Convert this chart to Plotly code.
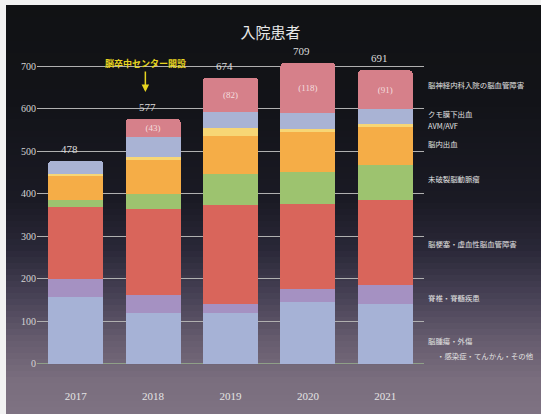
import plotly.graph_objects as go

years = ["2017", "2018", "2019", "2020", "2021"]
totals = [478, 577, 674, 709, 691]

# stacked segments, bottom to top
tumor_other = [158, 120, 119, 145, 142]      # 脳腫瘍・外傷・感染症・てんかん・その他
spine = [41, 42, 22, 31, 43]                 # 脊椎・脊髄疾患
infarction = [171, 202, 232, 201, 202]       # 脳梗塞・虚血性脳血管障害
aneurysm = [17, 36, 73, 74, 82]              # 未破裂脳動脈瘤
ich = [57, 80, 91, 94, 89]                   # 脳内出血
avm = [3, 6, 18, 8, 7]                       # AVM/AVF
sah = [31, 48, 37, 38, 35]                   # クモ膜下出血
neurology = [0, 43, 82, 118, 91]             # 脳神経内科入院の脳血管障害
neurology_labels = ["", "(43)", "(82)", "(118)", "(91)"]

series = [
    ("脳腫瘍・外傷・感染症・てんかん・その他", tumor_other, "#a6b2d6"),
    ("脊椎・脊髄疾患", spine, "#a591c2"),
    ("脳梗塞・虚血性脳血管障害", infarction, "#d9655b"),
    ("未破裂脳動脈瘤", aneurysm, "#9dc36f"),
    ("脳内出血", ich, "#f5ad47"),
    ("AVM/AVF", avm, "#f7d675"),
    ("クモ膜下出血", sah, "#a9b3d4"),
    ("脳神経内科入院の脳血管障害", neurology, "#d6808a"),
]

# right-side labels: (text, pixel y, pixel x)
side_labels = [
    ("脳神経内科入院の脳血管障害", 84, 426),
    ("クモ膜下出血", 114, 426),
    ("AVM/AVF", 125, 426),
    ("脳内出血", 143, 426),
    ("未破裂脳動脈瘤", 178, 426),
    ("脳梗塞・虚血性脳血管障害", 243, 426),
    ("脊椎・脊髄疾患", 297, 426),
    ("脳腫瘍・外傷", 340, 426),
    ("・感染症・てんかん・その他", 355, 435),
]

SERIF = "Liberation Serif, DejaVu Serif, Noto Sans CJK JP, serif"
JP = "Noto Sans CJK JP, sans-serif"

xs = list(range(len(years)))
fig = go.Figure()
for name, vals, color in series:
    is_top = name == "脳神経内科入院の脳血管障害"
    fig.add_trace(go.Bar(
        x=xs, y=vals, name=name, width=0.71,
        marker=dict(color=color, line=dict(width=0)),
        text=neurology_labels if is_top else None,
        textposition="inside" if is_top else None,
        insidetextanchor="middle",
        textfont=dict(family=SERIF, size=9, color="#f4dede"),
        showlegend=False,
    ))

# background gradient bands
stops = [(5, (17, 18, 20)), (100, (18, 19, 24)), (200, (26, 26, 36)), (250, (42, 40, 56)),
         (300, (74, 68, 88)), (340, (102, 92, 110)), (380, (122, 110, 126)), (414, (126, 114, 130))]
def col_at(py):
    for (y0, c0), (y1, c1) in zip(stops[:-1], stops[1:]):
        if y0 <= py <= y1:
            t = (py - y0) / (y1 - y0)
            return "rgb(%d,%d,%d)" % tuple(round(a + (b - a) * t) for a, b in zip(c0, c1))
    return "rgb(126,114,130)"

PT, PB, PL, PW = 50, 382, 37, 387
def py2paper(py):
    return (PB - py) / (PB - PT)
def px2paper(px):
    return (px - PL) / PW

shapes = []
band = 6
py = 5
while py < 414:
    py_end = min(py + band, 414)
    shapes.append(dict(type="rect", xref="paper", yref="paper",
                       x0=px2paper(6), x1=px2paper(545),
                       y0=py2paper(py_end + 0.5), y1=py2paper(py),
                       fillcolor=col_at((py + py_end) / 2), line=dict(width=0), layer="below"))
    py = py_end

annotations = []
for i, t in enumerate(totals):
    annotations.append(dict(x=i, y=t, text=str(t), showarrow=False, yshift=12, xshift=-6,
                            font=dict(family=SERIF, size=11, color="#dcdcdc")))
for text, pyv, pxv in side_labels:
    annotations.append(dict(x=px2paper(pxv), y=py2paper(pyv), xref="paper", yref="paper",
                            text=text, showarrow=False, xanchor="left", yanchor="middle",
                            font=dict(family=JP, size=7.4, color="#e2e2e2")))
annotations.append(dict(x=0.9, y=708, text="<b>脳卒中センター開設</b>", showarrow=False,
                        font=dict(family=JP, size=9, color="#e6d420")))
annotations.append(dict(x=0.9, y=640, text="", showarrow=True, ax=0, ay=-22,
                        arrowhead=2, arrowsize=1, arrowwidth=1.5, arrowcolor="#e6d420"))

fig.update_layout(
    width=541, height=414,
    margin=dict(l=PL, r=541 - PL - PW, t=PT, b=414 - PB),
    paper_bgcolor="#f2f2f2", plot_bgcolor="rgba(0,0,0,0)",
    barmode="stack", barcornerradius=4,
    title=dict(text="入院患者", x=0.5, xanchor="center", y=1 - 33 / 414, yanchor="middle",
               font=dict(family=JP, size=15, color="#e8e8e8")),
    shapes=shapes, annotations=annotations,
    xaxis=dict(range=[-0.5, 4.5], tickvals=xs, ticktext=years, showgrid=False, zeroline=False,
               showline=False, ticks="", ticklabelstandoff=6,
               tickfont=dict(family=SERIF, size=11, color="#e4e4e4")),
    yaxis=dict(range=[-42.4, 738.8], tick0=0, dtick=100, showgrid=True, gridcolor="#b0b0b0",
               gridwidth=1, zeroline=True, zerolinecolor="#8fa088", zerolinewidth=1,
               showline=False, ticks="", tickfont=dict(family=SERIF, size=10, color="#d4d4d4")),
    font=dict(family=JP),
)

fig.write_html("out.html")
